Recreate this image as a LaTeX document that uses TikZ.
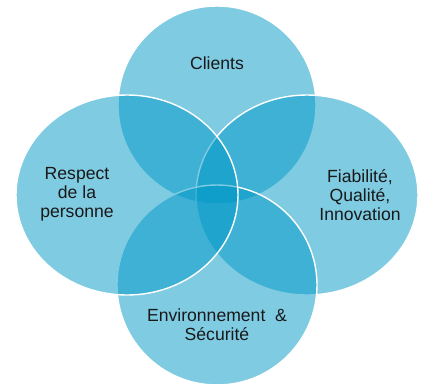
\documentclass[tikz,border=0pt]{standalone}
\usepackage{fontspec}
\setmainfont{Liberation Sans}
\definecolor{vennblue}{RGB}{0,152,199}
\definecolor{txt}{RGB}{25,25,25}
\begin{document}
\begin{tikzpicture}[x=1pt,y=-1pt,
  petal/.style={fill=vennblue,fill opacity=0.5,draw=white,line width=1.4pt},
  lbl/.style={align=center,font=\fontsize{17.6}{19}\selectfont,text=txt,inner sep=0pt}]
\useasboundingbox (0,0) rectangle (427,383);
\fill[white] (0,0) rectangle (427,383);
\draw[petal] (217,105) circle[radius=99pt];
\draw[petal] (307,195) ellipse[x radius=111pt,y radius=100pt];
\draw[petal] (217,285) circle[radius=100pt];
\draw[petal] (127,195) ellipse[x radius=111pt,y radius=100pt];
\node[lbl] (clients) at (217,63) {Clients};
\node[lbl] (respect) at (77,194) {Respect\\de la\\personne};
\node[lbl] (fiab) at (360,195) {Fiabilité,\\Qualité,\\Innovation};
\node[lbl] (env) at (217,325) {Environnement\ \ \&\\Sécurité};
\end{tikzpicture}
\end{document}
